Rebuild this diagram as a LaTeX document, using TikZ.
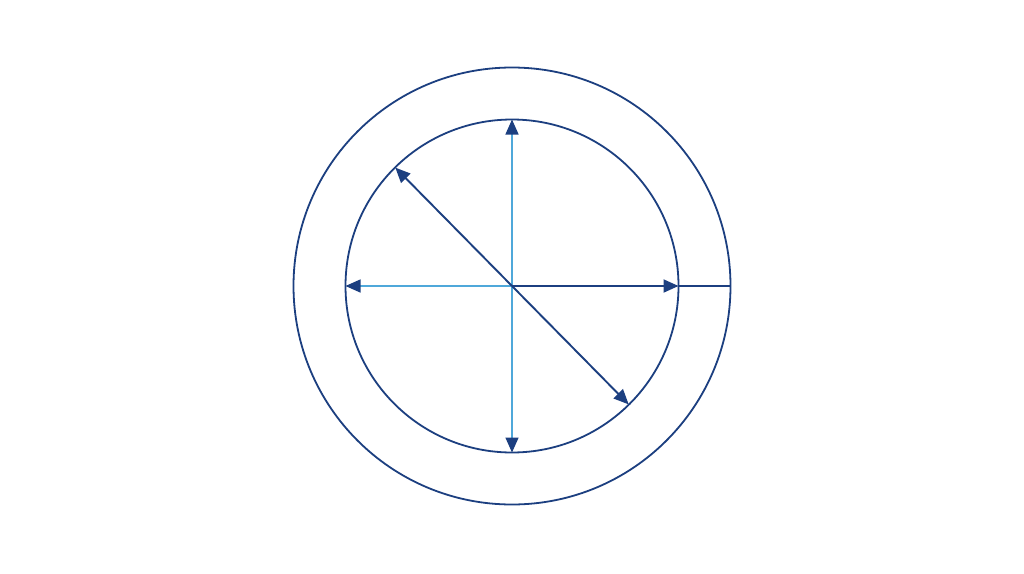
\documentclass[tikz,border=0pt]{standalone}
\usetikzlibrary{arrows.meta}
\definecolor{navy}{HTML}{1C3F80}
\definecolor{lblue}{HTML}{4FA8DA}
\begin{document}
\begin{tikzpicture}[x=1pt,y=-1pt,
  ring/.style={draw=navy,line width=1.8pt},
  tip/.style={-{Triangle[length=15pt,width=13pt,fill=navy,color=navy]}},
  light/.style={draw=lblue,line width=1.5pt},
  dark/.style={draw=navy,line width=1.9pt}]
\useasboundingbox[fill=white] (0,0) rectangle (1024,573);
\coordinate (c) at (512,286);
\draw[ring] (c) circle[radius=218.5];
\draw[ring] (c) circle[radius=166.5];
\path (c) +(0,-166.5) coordinate (top) +(0,166.5) coordinate (bot)
  +(-166.5,0) coordinate (lft) +(166.5,0) coordinate (rgt) +(218.5,0) coordinate (orgt);
\path (c) ++(-116.7,-118.4) coordinate (ul);
\path (c) ++(116.7,118.4) coordinate (lr);
\draw[light,tip] (c) -- (top);
\draw[light,tip] (c) -- (bot);
\draw[light,tip] (c) -- (lft);
\draw[dark,tip] (c) -- (rgt);
\draw[dark] (rgt) -- (orgt);
\draw[dark,tip] (c) -- (ul);
\draw[dark,tip] (c) -- (lr);
\end{tikzpicture}
\end{document}
